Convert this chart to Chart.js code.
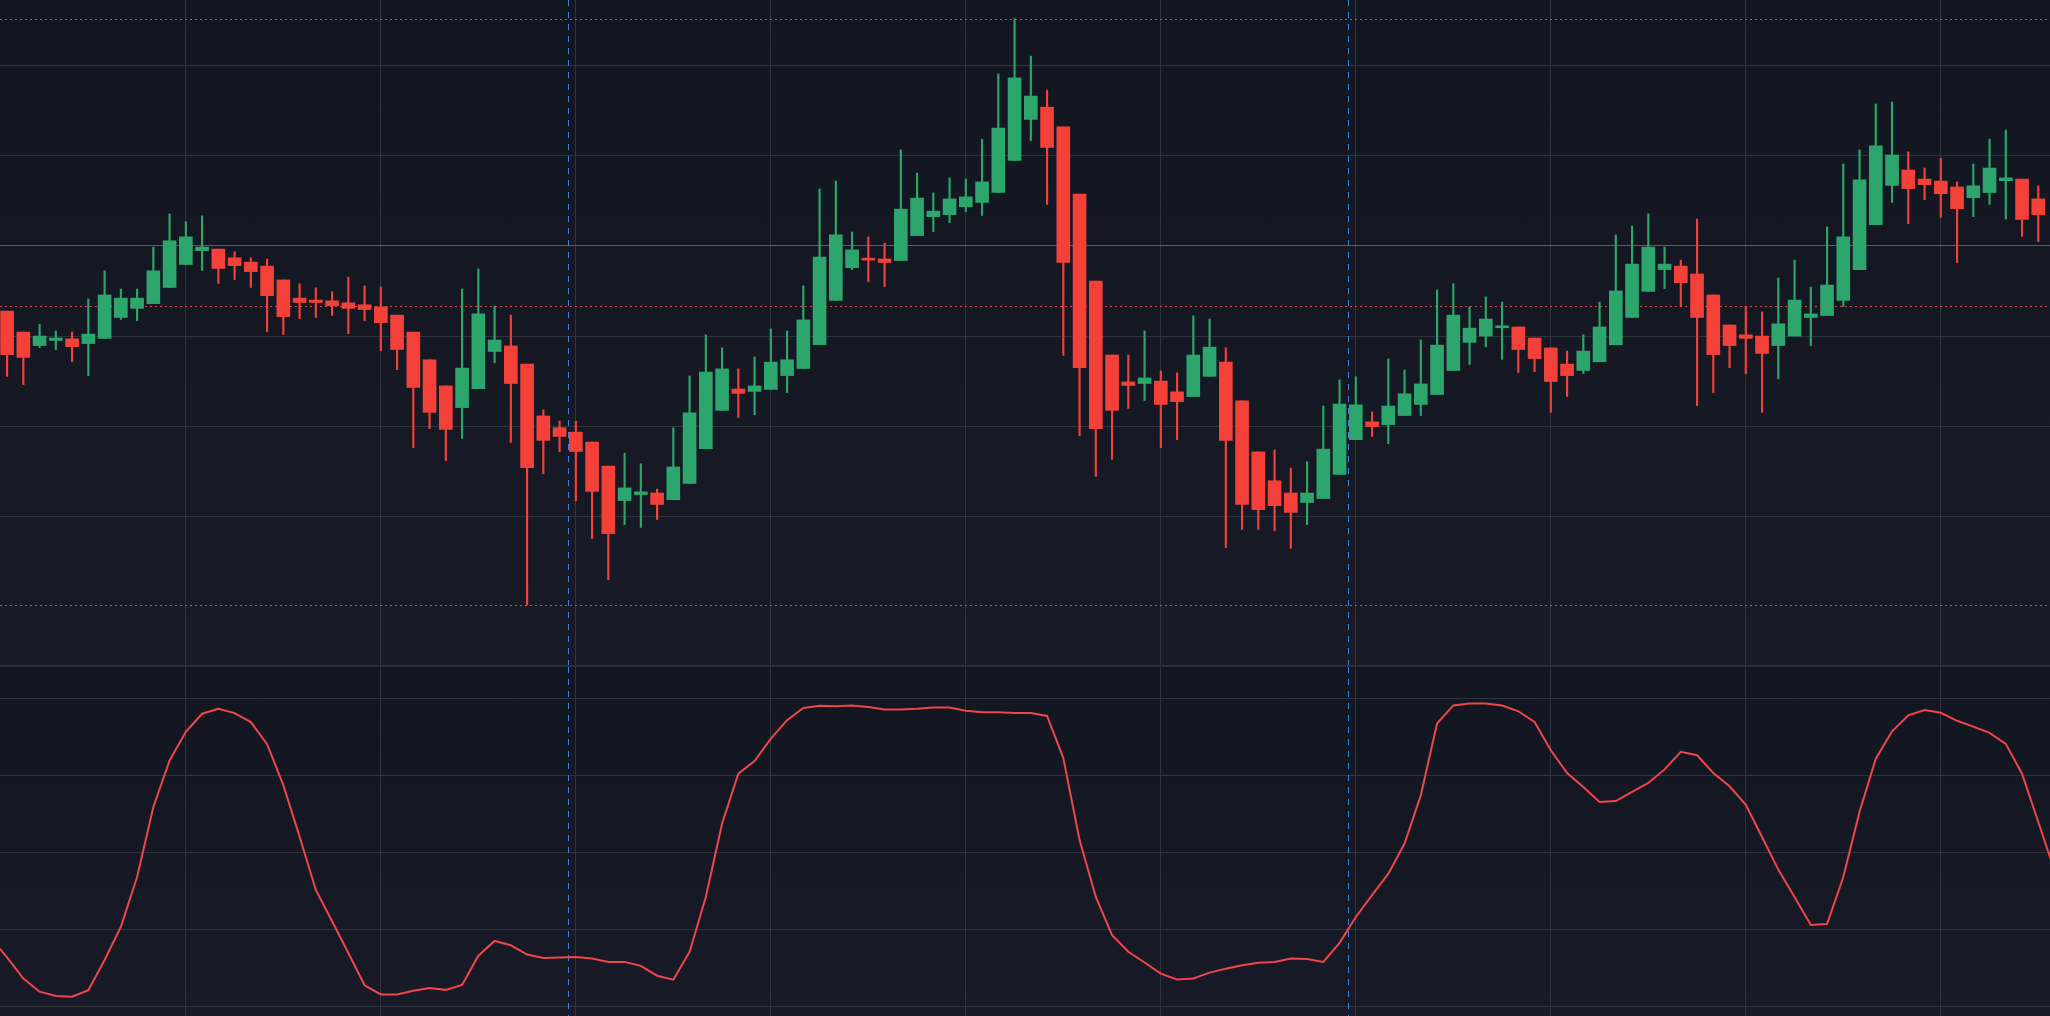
<!DOCTYPE html>
<html>
<head>
<meta charset="utf-8">
<script src="https://cdn.jsdelivr.net/npm/chart.js@4.4.1/dist/chart.umd.min.js"></script>
<style>
  html, body { margin: 0; padding: 0; background: #131722; overflow: hidden; }
  #top { position: absolute; left: 0; top: 0; width: 2050px; height: 665px;
         background: linear-gradient(#121620, #181b26); }
  #bottom { position: absolute; left: 0; top: 665px; width: 2050px; height: 351px;
            background: linear-gradient(#121620, #181b27); border-top: 2px solid #2a2e39; box-sizing: border-box; }
</style>
</head>
<body>
<div id="top"><canvas id="priceChart"></canvas></div>
<div id="bottom"><canvas id="oscChart"></canvas></div>
<script>
// candle values
var opens = [101.3,96.0,92.6,93.9,94.3,93.1,94.4,99.7,102.0,103.2,107.3,113.1,116.6,117.0,114.8,113.7,112.7,109.2,104.6,104.1,
  103.9,103.4,102.9,102.4,100.3,96.0,89.0,82.4,76.9,81.7,91.1,92.5,87.9,74.8,71.8,70.7,68.2,62.1,53.4,54.9,
  55.3,53.6,57.7,66.5,76.2,81.6,81.0,81.5,85.0,86.8,92.8,104.0,112.3,114.5,114.5,114.1,120.4,125.2,125.7,127.7,
  128.8,131.3,139.4,149.8,152.9,147.9,130.9,108.9,90.2,83.4,83.0,83.6,80.9,79.7,84.8,88.4,78.6,65.7,58.4,55.3,
  52.9,53.9,60.0,68.8,73.3,72.6,74.9,77.7,80.2,86.3,93.4,95.0,97.1,97.3,94.5,92.0,87.9,86.3,88.5,92.8,
  99.7,106.3,111.8,112.7,110.7,105.4,97.8,95.3,95.0,92.6,95.0,99.7,100.2,104.0,111.8,123.2,133.1,137.0,134.7,134.2,
  132.7,130.0,131.3,134.3,134.7,129.7];
var highs = [101.3,96.0,98.0,96.3,96.0,104.4,111.5,106.9,106.9,117.5,125.9,123.9,125.4,117.0,116.3,114.8,114.5,109.2,108.2,107.2,
  106.2,109.9,107.7,107.4,100.3,96.0,89.0,82.4,106.9,112.0,102.6,100.3,87.9,76.3,73.5,73.5,68.2,62.1,65.4,62.7,
  56.3,71.8,84.9,95.3,92.0,86.7,89.7,96.8,96.3,107.7,132.2,134.2,121.3,120.1,118.5,142.1,136.2,131.2,135.0,134.7,
  144.8,161.3,175.3,165.8,157.2,147.9,130.9,108.9,90.2,90.2,96.3,86.2,85.7,100.1,99.3,92.0,78.6,65.7,66.2,61.6,
  63.2,77.3,83.9,84.7,75.8,89.2,86.4,94.0,106.7,108.2,102.4,104.9,103.6,97.3,94.5,92.0,91.2,95.3,103.6,120.6,
  122.8,125.9,117.5,114.2,124.6,105.4,97.8,102.5,101.1,109.7,114.2,107.4,122.6,138.5,142.1,153.7,154.2,141.6,137.5,140.0,
  134.0,138.5,144.8,147.1,134.7,133.0];
var lows = [84.8,82.7,92.1,91.6,88.5,85.0,94.4,99.2,98.9,103.2,107.3,113.1,111.6,108.3,109.3,107.3,96.1,95.4,99.4,99.7,
  100.2,95.6,98.9,91.3,86.5,66.8,71.6,63.5,69.1,81.7,88.3,68.1,27.0,60.2,65.8,53.3,43.8,33.4,47.3,46.6,
  48.6,53.6,57.7,66.5,76.2,74.4,75.1,81.5,80.7,86.8,92.8,104.0,111.8,108.8,107.5,114.1,120.4,121.4,123.7,126.5,
  125.5,131.3,139.4,144.4,128.3,90.1,69.8,59.5,63.8,76.7,78.7,66.8,68.8,79.7,84.8,41.5,46.1,46.1,45.8,41.3,
  47.3,53.9,60.0,68.8,69.6,67.8,74.9,74.9,80.2,86.3,87.8,92.3,89.1,85.8,86.0,75.7,79.7,85.5,88.5,92.8,
  99.7,106.3,107.0,102.5,77.4,80.7,87.0,85.5,75.7,84.2,95.0,92.6,100.2,102.5,111.8,123.2,128.8,123.4,129.5,125.0,
  113.6,125.2,128.3,124.6,120.2,118.9];
var closes = [90.3,89.6,95.0,94.5,92.3,95.5,105.4,104.6,104.6,111.5,119.1,120.1,117.5,112.1,112.8,111.3,105.2,99.9,103.5,103.5,
  102.7,102.0,101.7,98.4,91.6,82.0,75.7,71.4,86.9,100.6,94.0,83.0,61.7,68.6,69.6,65.8,55.7,45.0,56.6,55.6,
  52.4,61.9,75.6,85.9,86.7,80.5,82.4,88.4,89.0,99.1,115.0,120.6,116.8,114.2,113.6,127.1,129.9,126.6,129.7,130.2,
  134.0,147.6,160.3,155.7,142.7,113.6,87.0,71.6,76.2,82.5,84.4,77.7,78.4,90.2,92.2,68.6,52.4,51.1,52.1,50.4,
  55.3,66.4,77.8,77.6,72.1,77.3,80.4,82.9,92.7,100.3,97.0,99.3,97.6,91.6,89.3,83.5,85.0,91.2,97.3,106.4,
  113.2,117.5,113.2,108.5,99.7,90.3,92.6,94.4,90.6,98.1,104.1,100.6,107.9,120.1,134.5,143.1,140.8,132.3,133.3,131.0,
  127.2,133.0,137.5,135.0,124.5,125.7];
// oscillator (0-100), starts one bar before the first visible candle
var oscStart = -1;
var oscValues = [22.0,15.9,9.0,4.7,3.3,3.1,5.2,15.0,25.8,42.0,64.8,79.9,89.2,95.1,96.7,95.3,92.4,85.2,71.9,55.1,37.8,
  27.6,17.3,6.8,3.8,3.8,5.0,5.9,5.3,6.9,16.4,21.2,19.8,16.8,15.7,15.8,16.0,15.5,14.4,14.4,13.1,
  9.9,8.6,17.7,35.5,59.4,75.6,79.7,87.0,93.0,97.0,97.7,97.5,97.8,97.3,96.5,96.5,96.7,97.1,97.1,96.1,
  95.6,95.6,95.3,95.3,94.4,80.7,54.0,35.5,23.1,17.7,14.2,10.6,8.7,9.0,10.9,12.2,13.3,14.1,14.4,15.5,
  15.3,14.4,20.6,29.0,36.1,43.1,52.9,68.6,91.9,97.8,98.4,98.4,97.8,95.9,92.4,83.2,75.8,71.3,66.4,66.7,
  69.7,72.6,77.0,82.7,81.6,75.8,71.5,65.5,55.0,44.4,35.5,26.4,26.7,42.0,63.2,80.5,89.4,94.6,96.3,95.4,
  92.8,90.9,88.9,85.3,75.6,59.9,44.0];

var priceGrid = [163.5, 140.7, 117.9, 94.9, 72.2, 49.4];
var brightLevel = 117.9;
var currentLevel = 102.5;
var timeGrid = [11, 23, 35, 47, 59, 71, 83, 95, 107, 119];
var sessionMarks = [34.5, 82.5];
var oscGrid = [0, 25, 50, 75, 100];

var GREEN = '#2ca66c';
var RED = '#f3413a';
var GRID = '#2f333e';

var xMin = -0.437, xMax = 125.72;

var bodies = [], wicks = [], colors = [];
for (var i = 0; i < opens.length; i++) {
  bodies.push({x: i, y: [opens[i], closes[i]]});
  wicks.push({x: i, y: [lows[i], highs[i]]});
  colors.push(closes[i] >= opens[i] ? GREEN : RED);
}

function xScale() {
  return {
    type: 'linear', min: xMin, max: xMax, offset: false,
    afterBuildTicks: function(s) { s.ticks = timeGrid.map(function(v){ return {value: v}; }); },
    grid: { color: GRID, lineWidth: 1, drawTicks: false, offset: false },
    border: { display: false },
    ticks: { display: false }
  };
}

var markPlugin = {
  id: 'marks',
  beforeDatasetsDraw: function(chart, args, opts) {
    var c = chart.ctx, xs = chart.scales.x, ys = chart.scales.y, a = chart.chartArea;
    c.save();
    if (opts.price) {
      var hi = Math.max.apply(null, highs), lo = Math.min.apply(null, lows);
      c.lineWidth = 1;
      c.setLineDash([2, 3]);
      c.strokeStyle = '#6f737e';
      [hi, lo].forEach(function(v) {
        var y = Math.round(ys.getPixelForValue(v)) + 0.5;
        c.beginPath(); c.moveTo(a.left, y); c.lineTo(a.right, y); c.stroke();
      });
      c.strokeStyle = '#e0413f';
      var yc = Math.round(ys.getPixelForValue(currentLevel)) + 0.5;
      c.beginPath(); c.moveTo(a.left, yc); c.lineTo(a.right, yc); c.stroke();
    }
    c.setLineDash([6, 6]);
    c.strokeStyle = '#3f7fe6';
    c.lineWidth = 1;
    sessionMarks.forEach(function(v) {
      var x = Math.round(xs.getPixelForValue(v)) + 0.5;
      c.beginPath(); c.moveTo(x, a.top); c.lineTo(x, a.bottom); c.stroke();
    });
    c.restore();
  }
};

Chart.defaults.animation = false;
Chart.defaults.responsive = true;
Chart.defaults.maintainAspectRatio = false;

new Chart(document.getElementById('priceChart'), {
  type: 'bar',
  data: {
    datasets: [
      { data: wicks, backgroundColor: colors, barThickness: 1.5, grouped: false, order: 2, borderWidth: 0 },
      { data: bodies, backgroundColor: colors, barThickness: 13, grouped: false, order: 1, borderWidth: 0, minBarLength: 2 }
    ]
  },
  options: {
    layout: { padding: 0 },
    plugins: { legend: { display: false }, tooltip: { enabled: false }, marks: { price: true } },
    scales: {
      x: xScale(),
      y: {
        type: 'linear', min: 11.8, max: 180,
        afterBuildTicks: function(s) { s.ticks = priceGrid.map(function(v){ return {value: v}; }); },
        grid: {
          drawTicks: false,
          color: function(ctx) { return ctx.tick && ctx.tick.value === brightLevel ? '#5a5e69' : GRID; }
        },
        border: { display: false },
        ticks: { display: false }
      }
    }
  },
  plugins: [markPlugin]
});

var oscPoints = oscValues.map(function(v, i) { return {x: i + oscStart, y: v}; });

new Chart(document.getElementById('oscChart'), {
  type: 'line',
  data: {
    datasets: [{ data: oscPoints, borderColor: '#f0454a', borderWidth: 2, pointRadius: 0, tension: 0, fill: false }]
  },
  options: {
    layout: { padding: 0 },
    plugins: { legend: { display: false }, tooltip: { enabled: false }, marks: { price: false } },
    scales: {
      x: xScale(),
      y: {
        type: 'linear', min: -3.2, max: 110.3,
        afterBuildTicks: function(s) { s.ticks = oscGrid.map(function(v){ return {value: v}; }); },
        grid: { color: GRID, drawTicks: false },
        border: { display: false },
        ticks: { display: false }
      }
    }
  },
  plugins: [markPlugin]
});
</script>
</body>
</html>
